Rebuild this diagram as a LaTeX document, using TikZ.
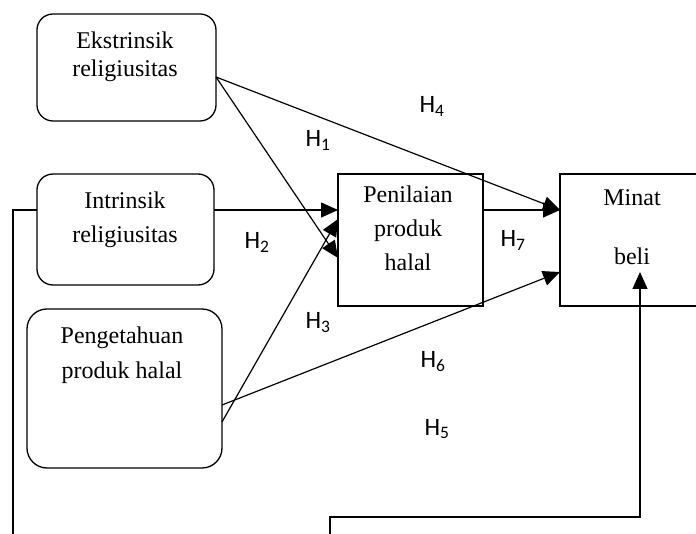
\documentclass[tikz,border=0pt]{standalone}
\usepackage{fontspec}
\setmainfont{Liberation Serif}
\newfontfamily\hfont{Carlito}
\usetikzlibrary{arrows.meta}
\begin{document}
\begin{tikzpicture}[x=1pt,y=-1pt,
  box/.style={draw,line width=1.3pt,inner sep=0pt,outer sep=0pt},
  rbox/.style={box,rounded corners=16pt},
  txt/.style={anchor=base,inner sep=0pt,font=\fontsize{24}{28}\selectfont},
  hl/.style={anchor=base,inner sep=0pt,font=\hfont\fontsize{25}{28}\selectfont},
  con/.style={line width=1.2pt},
  arr/.style={con,-{Triangle[length=17pt,width=15pt]}}]
\useasboundingbox (0,0) rectangle (696,534);
% boxes
\node[rbox,minimum width=179pt,minimum height=107pt] (ek) at (126.5,67.5) {};
\node[rbox,minimum width=177pt,minimum height=111pt] (in) at (125.5,229.5) {};
\node[rbox,rounded corners=20pt,minimum width=195pt,minimum height=159pt] (pe) at (124.5,388.5) {};
\node[box,minimum width=145pt,minimum height=132pt] (pn) at (410.5,240) {};
\node[box,minimum width=160pt,minimum height=132pt] (mb) at (640,240) {};
% texts
\node[txt] (t1) at (125,49) {Ekstrinsik};
\node[txt] (t2) at (125,77) {religiusitas};
\node[txt] (t3) at (125,209) {Intrinsik};
\node[txt] (t4) at (125,243) {religiusitas};
\node[txt] (t5) at (122,344) {Pengetahuan};
\node[txt] (t6) at (122,379) {produk halal};
\node[txt] (t7) at (408,203) {Penilaian};
\node[txt] (t8) at (408,237) {produk};
\node[txt] (t9) at (408,271) {halal};
\node[txt] (t10) at (632,206) {Minat};
\node[txt] (t11) at (632,265) {beli};
% hypothesis labels
\node[hl] (h4) at (432,113) {H\textsubscript{4}};
\node[hl] (h1) at (318,147) {H\textsubscript{1}};
\node[hl] (h2) at (257,249) {H\textsubscript{2}};
\node[hl] (h7) at (513,247) {H\textsubscript{7}};
\node[hl] (h3) at (318,329) {H\textsubscript{3}};
\node[hl] (h6) at (433,368) {H\textsubscript{6}};
\node[hl] (h5) at (437,435) {H\textsubscript{5}};
% connectors
\draw[arr] ([yshift=-9.5pt]ek.east) -- ([yshift=30pt]mb.west);
\draw[arr] ([yshift=-9.5pt]ek.east) -- ([yshift=-18pt]pn.west);
\draw[arr] ([yshift=19.5pt]in.east) -- ([yshift=30pt]pn.west);
\draw[arr] ([yshift=-33.5pt]pe.east) -- ([yshift=21pt]pn.west);
\draw[arr] ([yshift=-16.5pt]pe.east) -- ([yshift=-32pt]mb.west);
\draw[arr] ([yshift=30pt]pn.east) -- ([yshift=30pt]mb.west);
% feedback lines
\coordinate (fl) at (13,545);
\draw[con] ([yshift=19.5pt]in.west) -| (fl);
\coordinate (fb) at (330,545);
\coordinate (fbturn) at (640,517);
\draw[arr] (fb) |- (fbturn) -- ([yshift=34pt]mb.south);
\end{tikzpicture}
\end{document}
